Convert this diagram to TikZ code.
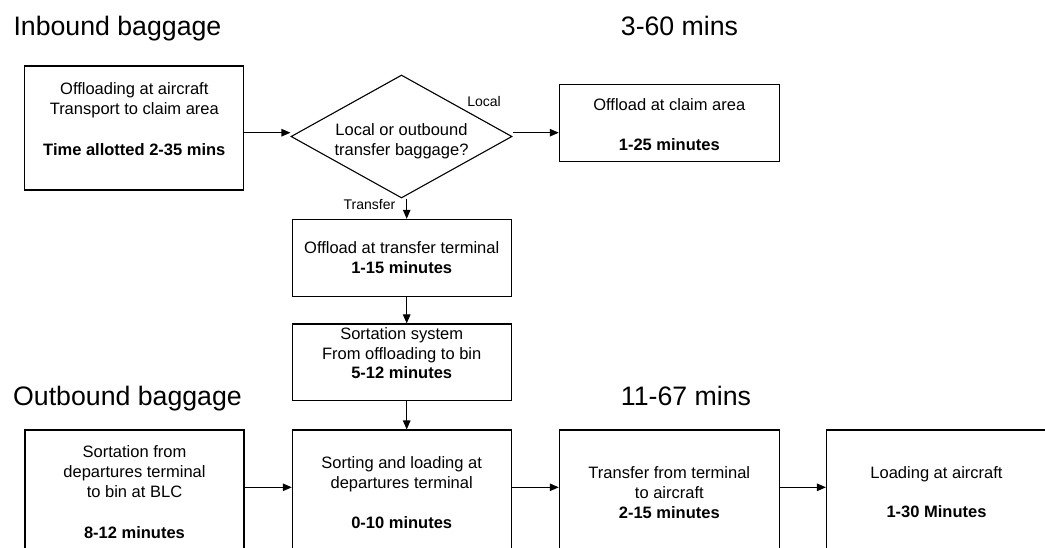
\documentclass[tikz,border=0pt]{standalone}
\usepackage{fontspec}
\setmainfont{Liberation Sans}
\usetikzlibrary{arrows.meta,shapes.geometric}
\begin{document}
\begin{tikzpicture}[x=1pt,y=-1pt,
  box/.style={draw=black,line width=1.1pt,rectangle,inner sep=0pt},
  decision/.style={draw=black,line width=1.1pt,diamond,inner sep=0pt},
  txt/.style={anchor=base,inner sep=0pt,font=\fontsize{16.5}{20}\selectfont},
  btxt/.style={txt,font=\fontsize{16.5}{20}\selectfont\bfseries},
  small/.style={anchor=base,inner sep=0pt,font=\fontsize{14}{16}\selectfont},
  heading/.style={anchor=base west,inner sep=0pt,font=\fontsize{26.7}{30}\selectfont},
  arr/.style={draw=black,line width=1.1pt,-{Triangle[length=9pt,width=7.5pt]}}]
\useasboundingbox (0,0) rectangle (1045,547);
\clip (0,0) rectangle (1045,547);

% section headings
\node[heading] (hin)   at (13.3,35)  {Inbound baggage};
\node[heading] (tin)   at (620.7,35) {3-60 mins};
\node[heading] (hout)  at (13,405)   {Outbound baggage};
\node[heading] (tout)  at (620.7,405) {11-67 mins};

% inbound flow
\node[box,minimum width=219pt,minimum height=124pt] (b1) at (134.3,128) {};
\node[txt]  (b1a) at (134.3,94)  {Offloading at aircraft};
\node[txt]  (b1b) at (134.3,114) {Transport to claim area};
\node[btxt] (b1c) at (134.3,155) {Time allotted 2-35 mins};

\node[decision,minimum width=221pt,minimum height=123pt] (dec) at (401.5,136.5) {};
\node[txt] (deca) at (401.5,135) {Local or outbound};
\node[txt] (decb) at (401.5,155) {transfer baggage?};
\node[small] (lloc) at (484,106) {Local};
\node[small] (ltr)  at (369.5,209) {Transfer};

\node[box,minimum width=220pt,minimum height=77.4pt] (claim) at (669.3,123.2) {};
\node[txt]  (claima) at (669.3,110) {Offload at claim area};
\node[btxt] (claimb) at (669.3,150) {1-25 minutes};

\node[box,minimum width=218.7pt,minimum height=76.7pt] (tb) at (401.7,257.7) {};
\node[txt]  (tba) at (401.7,253.3) {Offload at transfer terminal};
\node[btxt] (tbb) at (401.7,273.3) {1-15 minutes};

\node[box,minimum width=218.7pt,minimum height=76.7pt] (sb) at (401.7,362.3) {};
\node[txt]  (sba) at (401.7,339) {Sortation system};
\node[txt]  (sbb) at (401.7,359) {From offloading to bin};
\node[btxt] (sbc) at (401.7,378.5) {5-12 minutes};

% outbound flow
\node[box,minimum width=219pt,minimum height=140pt]   (o1) at (134.5,500) {};
\node[txt]  (o1a) at (134.5,457) {Sortation from};
\node[txt]  (o1b) at (134.5,477) {departures terminal};
\node[txt]  (o1c) at (134.5,497) {to bin at BLC};
\node[btxt] (o1d) at (134.5,538) {8-12 minutes};

\node[box,minimum width=218.7pt,minimum height=140pt] (o2) at (401.7,500) {};
\node[txt]  (o2a) at (401.7,468) {Sorting and loading at};
\node[txt]  (o2b) at (401.7,488) {departures terminal};
\node[btxt] (o2c) at (401.7,528) {0-10 minutes};

\node[box,minimum width=220pt,minimum height=140pt]   (o3) at (669.3,500) {};
\node[txt]  (o3a) at (669.3,478) {Transfer from terminal};
\node[txt]  (o3b) at (669.3,498) {to aircraft};
\node[btxt] (o3c) at (669.3,518) {2-15 minutes};

\node[box,minimum width=220pt,minimum height=140pt]   (o4) at (936.5,500) {};
\node[txt]  (o4a) at (936.5,478) {Loading at aircraft};
\node[btxt] (o4b) at (936.5,517) {1-30 Minutes};

% connectors
\draw[arr] ([yshift=-4.7pt]b1.east) -- ([yshift=-4.7pt]b1.east -| dec.west);
\draw[arr] ([yshift=3.8pt]dec.east) -- ([yshift=3.8pt]dec.east -| claim.west);
\draw[arr] ([xshift=5.2pt]dec.south) -- ([xshift=5.2pt]dec.south |- tb.north);
\draw[arr] ([xshift=5pt]tb.south) -- ([xshift=5pt]sb.north);
\draw[arr] ([xshift=5pt]sb.south) -- ([xshift=5pt]o2.north);
\draw[arr] ([yshift=12.7pt]o1.east) -- ([yshift=12.7pt]o2.west);
\draw[arr] ([yshift=12.7pt]o2.east) -- ([yshift=12.7pt]o3.west);
\draw[arr] ([yshift=12.7pt]o3.east) -- ([yshift=12.7pt]o4.west);
\end{tikzpicture}
\end{document}
